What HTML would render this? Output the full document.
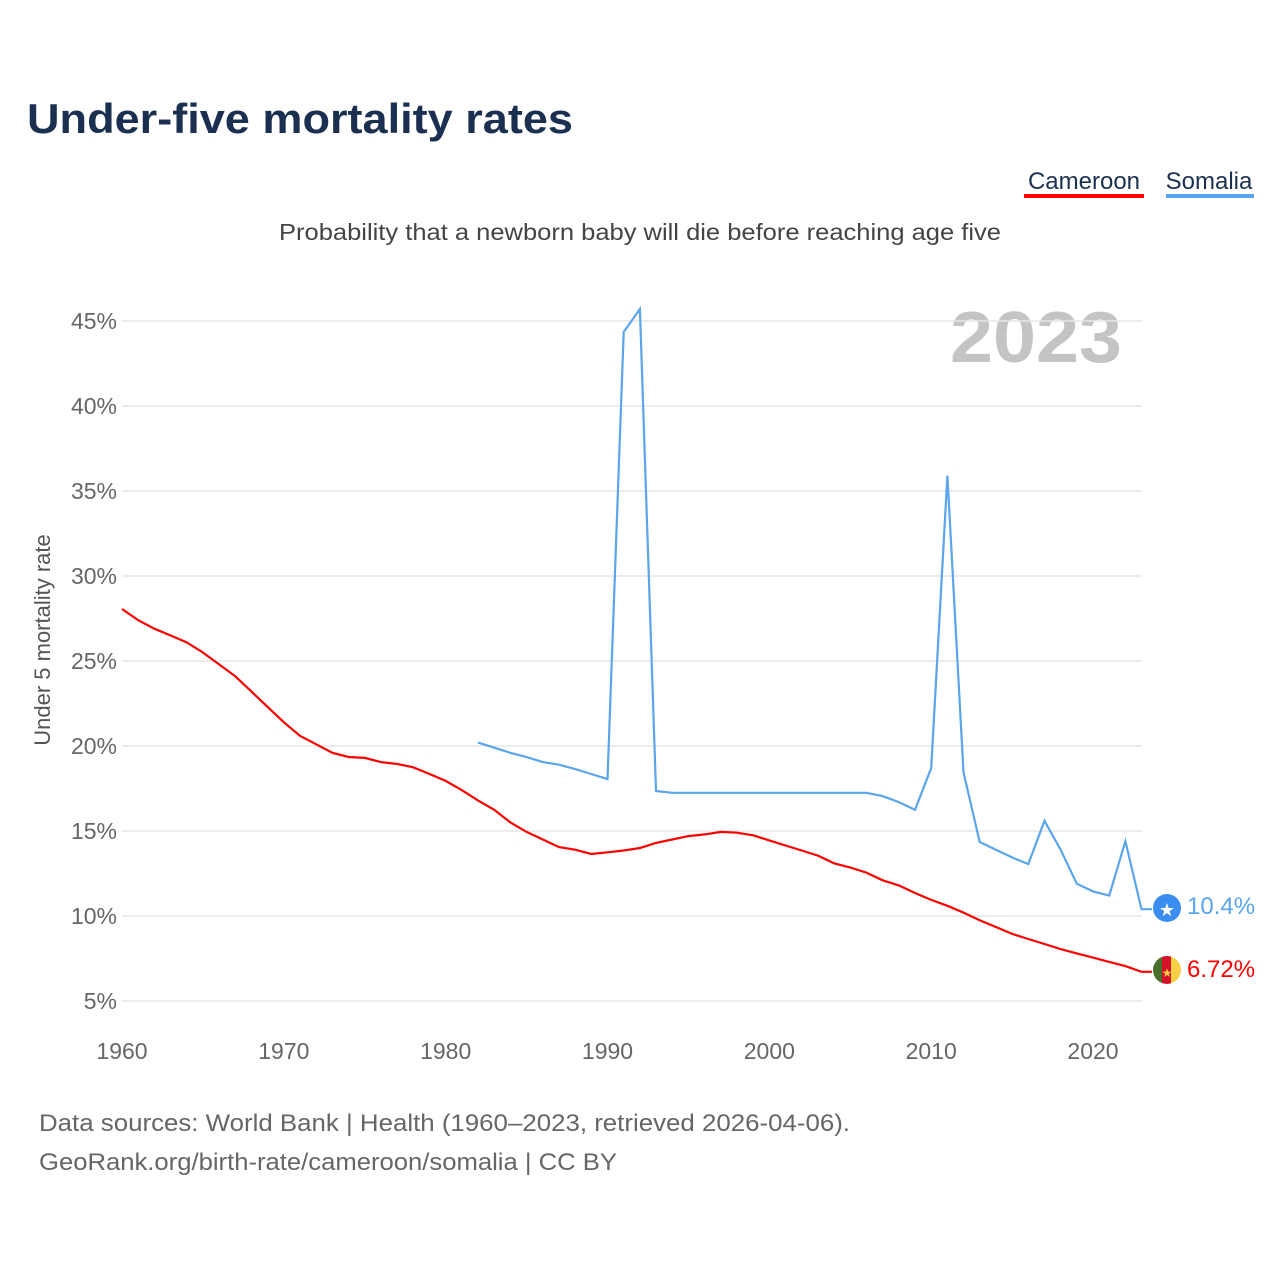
<!DOCTYPE html>
<html><head><meta charset="utf-8"><style>
body{margin:0;background:#fff;font-family:"Liberation Sans",sans-serif;}
svg text{font-family:"Liberation Sans",sans-serif;}
</style></head><body>
<svg id="chart" width="1280" height="1280" viewBox="0 0 1280 1280" xmlns="http://www.w3.org/2000/svg">
<text x="27" y="133" font-size="42" font-weight="bold" fill="#1b3050" textLength="546" lengthAdjust="spacingAndGlyphs">Under-five mortality rates</text>
<g><text x="1084" y="189" font-size="24" fill="#1b3050" text-anchor="middle">Cameroon</text><rect x="1024" y="194" width="120" height="4" fill="#ff0000"/></g>
<g><text x="1209" y="189" font-size="24" fill="#1b3050" text-anchor="middle">Somalia</text><rect x="1166" y="194" width="88" height="4" fill="#5aa5ec"/></g>
<text x="279" y="240" font-size="23" fill="#444" textLength="722" lengthAdjust="spacingAndGlyphs">Probability that a newborn baby will die before reaching age five</text>
<text x="950" y="362" font-size="72" font-weight="bold" fill="#c4c4c4" textLength="172" lengthAdjust="spacingAndGlyphs">2023</text>
<text transform="translate(50,640) rotate(-90)" font-size="22" fill="#555" text-anchor="middle">Under 5 mortality rate</text>
<g id="grid"></g><g id="lines"></g>
<g><circle cx="1167" cy="908" r="14" fill="#3a8ef0"/><text x="1167" y="916" font-size="18" fill="#fff" text-anchor="middle">★</text></g>
<g><clipPath id="cc"><circle cx="1167" cy="970" r="14"/></clipPath><g clip-path="url(#cc)"><rect x="1153" y="956" width="10" height="28" fill="#4a6e2c"/><rect x="1162" y="956" width="10" height="28" fill="#d4122a"/><rect x="1171" y="956" width="10" height="28" fill="#f7d046"/></g><text x="1167" y="977" font-size="12" fill="#f7d046" text-anchor="middle">★</text></g>
<text x="1187" y="914" font-size="24" fill="#5aa5ec">10.4%</text>
<text x="1187" y="977" font-size="24" fill="#ff0000">6.72%</text>
<text x="39" y="1131" font-size="24" fill="#666" textLength="811" lengthAdjust="spacingAndGlyphs">Data sources: World Bank | Health (1960–2023, retrieved 2026-04-06).</text>
<text x="39" y="1170" font-size="24" fill="#666" textLength="578" lengthAdjust="spacingAndGlyphs">GeoRank.org/birth-rate/cameroon/somalia | CC BY</text>
</svg>
<script>
const yTicks=[5,10,15,20,25,30,35,40,45];
const xTicks=[1960,1970,1980,1990,2000,2010,2020];
const cameroonYears=[];for(let y=1960;y<=2023;y++)cameroonYears.push(y);
const cameroon=[28.06,27.4,26.9,26.5,26.1,25.5,24.8,24.1,23.2,22.3,21.4,20.6,20.1,19.6,19.35,19.3,19.05,18.95,18.75,18.35,17.95,17.4,16.8,16.25,15.5,14.95,14.5,14.05,13.9,13.65,13.75,13.85,14.0,14.3,14.5,14.7,14.8,14.95,14.9,14.75,14.45,14.15,13.85,13.55,13.1,12.85,12.55,12.1,11.8,11.35,10.95,10.6,10.2,9.75,9.35,8.95,8.65,8.35,8.05,7.8,7.55,7.3,7.05,6.72];
const somaliaYears=[];for(let y=1982;y<=2023;y++)somaliaYears.push(y);
const somalia=[20.2,19.9,19.6,19.35,19.05,18.9,18.65,18.35,18.05,44.35,45.7,17.35,17.25,17.25,17.25,17.25,17.25,17.25,17.25,17.25,17.25,17.25,17.25,17.25,17.25,17.05,16.7,16.25,18.7,35.9,18.45,14.35,13.9,13.45,13.05,15.6,13.9,11.9,11.45,11.2,14.4,10.4];
const xS=y=>122+(y-1960)*(1093-122)/60;
const yS=v=>1001-(v-5)*17;
const NS='http://www.w3.org/2000/svg';
const grid=document.getElementById('grid'),lines=document.getElementById('lines');
yTicks.forEach(t=>{
 const l=document.createElementNS(NS,'line');
 
 
 l.setAttribute('x1',122);l.setAttribute('x2',1142);l.setAttribute('y1',yS(t));l.setAttribute('y2',yS(t));
 l.setAttribute('stroke','#e6e6e6');l.setAttribute('stroke-width','1.5');grid.appendChild(l);
 const tx=document.createElementNS(NS,'text');
 
 
 tx.setAttribute('x',117);tx.setAttribute('y',yS(t)+8);tx.setAttribute('text-anchor','end');
 tx.setAttribute('font-size','23');tx.setAttribute('fill','#666');tx.textContent=t+'%';grid.appendChild(tx);
});
xTicks.forEach(t=>{
 const tx=document.createElementNS(NS,'text');
 
 
 tx.setAttribute('x',xS(t));tx.setAttribute('y',1059);tx.setAttribute('text-anchor','middle');
 tx.setAttribute('font-size','23');tx.setAttribute('fill','#666');tx.textContent=t;grid.appendChild(tx);
});
function line(years,vals,color,name,endX){
 let d=years.map((y,i)=>(i?'L':'M')+xS(y).toFixed(1)+','+yS(vals[i]).toFixed(1)).join(' ');
 d+=' L'+endX+','+yS(vals[vals.length-1]).toFixed(1);
 const p=document.createElementNS(NS,'path');
 
 
 p.setAttribute('d',d);p.setAttribute('fill','none');p.setAttribute('stroke',color);p.setAttribute('stroke-width','2.2');
 lines.appendChild(p);
}
line(cameroonYears,cameroon,'#ff0000','cameroon-line',1152);
line(somaliaYears,somalia,'#5aa5ec','somalia-line',1152);
</script>
</body></html>
